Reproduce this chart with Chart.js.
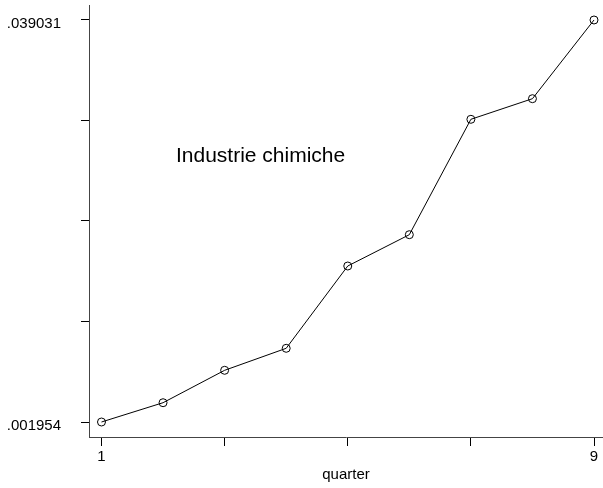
<!DOCTYPE html>
<html>
<head>
<meta charset="utf-8">
<script src="https://cdn.jsdelivr.net/npm/chart.js@4/dist/chart.umd.min.js"></script>
<style>
  html, body { margin: 0; padding: 0; background: #fff; }
  canvas { display: block; }
</style>
</head>
<body>
<canvas id="c" width="603" height="488"></canvas>
<script>
// Quarterly series for the chemical industry
const quarters = [1, 2, 3, 4, 5, 6, 7, 8, 9];
const values = [0.001954, 0.003734, 0.006722, 0.008751, 0.016342, 0.019229, 0.029872, 0.031772, 0.039031];

// Axis ticks (only the end ticks carry labels)
const xTickValues = [1, 3, 5, 7, 9];
const xTickLabels = ['1', '', '', '', '9'];
const yTickValues = [0.001954, 0.011223, 0.020493, 0.029762, 0.039031];
const yTickLabels = ['.001954', '', '', '', '.039031'];

const seriesLabel = 'Industrie chimiche';
const xTitle = 'quarter';

const FONT = 'Liberation Sans, Arial, Helvetica, sans-serif';

// Draws the series name inside the plot, anchored in data coordinates
const seriesNote = {
  id: 'seriesNote',
  afterDatasetsDraw(chart) {
    const { ctx, scales } = chart;
    const x = scales.x.getPixelForValue(2.21);
    const y = scales.y.getPixelForValue(0.02593);
    ctx.save();
    ctx.fillStyle = '#000';
    ctx.font = '21px ' + FONT;
    ctx.textAlign = 'left';
    ctx.textBaseline = 'alphabetic';
    ctx.fillText(seriesLabel, x, y);
    ctx.restore();
  }
};

new Chart(document.getElementById('c'), {
  type: 'line',
  data: {
    datasets: [{
      data: quarters.map((q, i) => ({ x: q, y: values[i] })),
      borderColor: '#000',
      borderWidth: 1,
      tension: 0,
      pointStyle: 'circle',
      pointRadius: 4,
      pointBorderWidth: 1,
      pointBorderColor: '#000',
      pointBackgroundColor: 'rgba(0,0,0,0)',
      fill: false,
      clip: false
    }]
  },
  options: {
    responsive: false,
    animation: false,
    devicePixelRatio: 1,
    layout: { autoPadding: false, padding: { top: 5, right: 0, bottom: 0, left: 0 } },
    plugins: { legend: { display: false }, tooltip: { enabled: false } },
    scales: {
      x: {
        type: 'linear',
        min: 0.797,
        max: 9.146,
        afterBuildTicks: s => { s.ticks = xTickValues.map(v => ({ value: v })); },
        afterFit: s => { s.height = 51; s.paddingLeft = 0; s.paddingRight = 0; },
        ticks: {
          autoSkip: false,
          maxRotation: 0,
          padding: 2,
          color: '#000',
          font: { family: FONT, size: 15 },
          callback: (v, i) => xTickLabels[i]
        },
        grid: { display: true, drawOnChartArea: false, drawTicks: true, tickLength: 9, color: '#000', lineWidth: 1 },
        border: { display: true, color: '#444', width: 1 },
        title: { display: true, text: xTitle, color: '#000', font: { family: FONT, size: 15 }, padding: { top: 0, bottom: 4 } }
      },
      y: {
        type: 'linear',
        min: 0.000571,
        max: 0.040414,
        afterBuildTicks: s => { s.ticks = yTickValues.map(v => ({ value: v })); },
        afterFit: s => { s.width = 89; s.paddingTop = 0; s.paddingBottom = 0; },
        ticks: {
          autoSkip: false,
          padding: 20,
          labelOffset: 4,
          color: '#000',
          font: { family: FONT, size: 15 },
          callback: (v, i) => yTickLabels[i]
        },
        grid: { display: true, drawOnChartArea: false, drawTicks: true, tickLength: 8, color: '#000', lineWidth: 1 },
        border: { display: true, color: '#444', width: 1 }
      }
    }
  },
  plugins: [seriesNote]
});
</script>
</body>
</html>
